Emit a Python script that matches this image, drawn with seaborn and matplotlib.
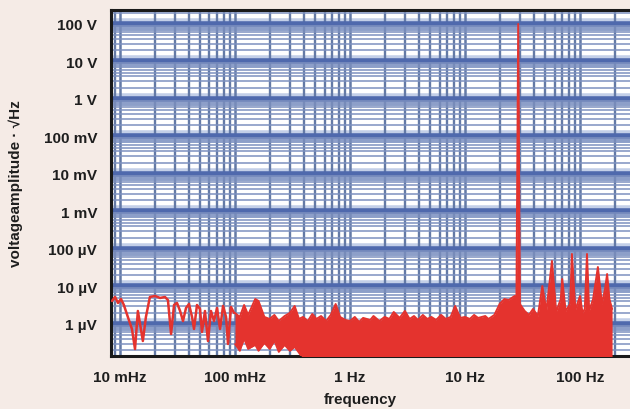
import matplotlib
matplotlib.use("Agg")
import pandas as pd
import seaborn as sns
import matplotlib.pyplot as plt
from matplotlib.ticker import LogLocator, NullFormatter, FixedLocator, FixedFormatter

# low-frequency part of the spectrum: single trace (Hz, µV/√Hz)
trace_freq = [0.00852, 0.00905, 0.00961, 0.0102, 0.0108, 0.0117, 0.0127, 0.0135,
              0.0143, 0.0152, 0.0158, 0.0168, 0.0182, 0.0202, 0.0223, 0.0246,
              0.0261, 0.0278, 0.0295, 0.0313, 0.0333, 0.0353, 0.0375, 0.0398,
              0.0423, 0.0440, 0.0467, 0.0496, 0.0516, 0.0548, 0.0582, 0.0618,
              0.0657, 0.0698, 0.0741, 0.0787, 0.0836, 0.0869, 0.0923, 0.0980]
trace_uv = [4.10, 5.25, 3.63, 4.64, 3.21, 1.54, 0.736, 0.215,
            2.22, 0.736, 0.352, 1.54, 5.25, 5.58, 4.94, 5.25,
            4.36, 0.541, 3.21, 3.63, 2.22, 1.20, 2.67, 3.41,
            1.54, 0.736, 3.21, 2.51, 0.612, 2.22, 0.352, 2.22,
            1.20, 2.67, 0.736, 3.02, 1.54, 0.293, 2.84, 1.97]

# dense part: max / min envelope of the trace per bin
band_freq = [0.10, 0.11, 0.12, 0.13, 0.15, 0.16, 0.18, 0.20, 0.22, 0.24, 0.27, 0.30, 0.33, 0.36,
             0.39, 0.43, 0.47, 0.51, 0.56, 0.62, 0.68, 0.75, 0.82, 0.91,
             1.0, 1.1, 1.2, 1.3, 1.5, 1.6, 1.8, 2.0, 2.2, 2.4, 2.7, 3.0,
             3.3, 3.6, 3.9, 4.3, 4.7, 5.1, 5.6, 6.2, 6.8, 7.5, 8.2, 9.1,
             10, 11, 12, 13, 15, 16, 18, 20, 22, 24, 27, 28, 29, 30,
             33, 36, 39, 43, 47, 51, 57, 62, 68, 70, 75, 82, 85, 91,
             100, 105, 110, 115, 120, 130, 143, 155, 165, 172, 180, 190]
band_top_uv = [1.97, 1.54, 3.21, 1.74, 4.64, 4.10, 1.54, 1.36, 1.74, 1.20, 1.63, 1.97, 3.02, 1.36,
               1.54, 1.20, 1.85, 1.36, 1.63, 1.20, 1.74, 3.41, 1.54, 1.28,
               1.20, 1.54, 1.13, 1.45, 1.28, 1.63, 1.20, 1.54, 1.36, 2.09, 1.45, 2.22,
               1.36, 1.63, 1.28, 1.74, 1.36, 1.54, 1.28, 1.74, 1.36, 1.54, 3.02, 1.45,
               1.54, 1.36, 1.74, 1.45, 1.63, 1.36, 1.74, 3.41, 4.64, 4.36, 5.58, 4.64, 1.0e8, 3.41,
               2.22, 1.74, 2.51, 1.63, 10.3, 2.22, 47.9, 2.09, 4.64, 15.8, 2.22, 3.41, 73.6, 2.36,
               5.58, 1.97, 2.51, 73.6, 2.22, 4.64, 33.1, 3.41, 8.58, 21.5, 4.64, 2.51]
band_bottom_uv = [0.293, 0.191, 0.398, 0.215, 0.275, 0.191, 0.311, 0.215, 0.352, 0.179, 0.275, 0.191, 0.244, 0.169,
                  0.12, 0.12, 0.12, 0.12, 0.12, 0.12, 0.12, 0.12, 0.12, 0.12,
                  0.12, 0.12, 0.12, 0.12, 0.12, 0.12, 0.12, 0.12, 0.12, 0.12, 0.12, 0.12,
                  0.12, 0.12, 0.12, 0.12, 0.12, 0.12, 0.12, 0.12, 0.12, 0.12, 0.12, 0.12,
                  0.12, 0.12, 0.12, 0.12, 0.12, 0.12, 0.12, 0.12, 0.12, 0.12, 0.12, 0.12, 0.12, 0.12,
                  0.12, 0.12, 0.12, 0.12, 0.12, 0.12, 0.12, 0.12, 0.12, 0.12, 0.12, 0.12, 0.12, 0.12,
                  0.12, 0.12, 0.12, 0.12, 0.12, 0.12, 0.12, 0.12, 0.12, 0.12, 0.12, 0.12]

x_ticks = [0.01, 0.1, 1, 10, 100]
x_labels = ["10 mHz", "100 mHz", "1 Hz", "10 Hz", "100 Hz"]
y_ticks = [1, 10, 100, 1e3, 1e4, 1e5, 1e6, 1e7, 1e8]
y_labels = ["1 µV", "10 µV", "100 µV", "1 mV", "10 mV", "100 mV", "1 V", "10 V", "100 V"]

bg = "#f5ebe6"
red = "#e4332e"
txt = "#1e1e1e"

sns.set_style("white")
plt.rcParams["font.family"] = ["Liberation Sans", "DejaVu Sans"]

fig = plt.figure(figsize=(6.3, 4.1), dpi=100, facecolor=bg)
ax = fig.add_axes([111 / 630, 1 - 357 / 410, 519 / 630, 346 / 410])
ax.set_facecolor("white")
ax.set_xscale("log")
ax.set_yscale("log")
ax.set_xlim(0.00835, 272)
ax.set_ylim(0.14, 2.36e8)

# grid: thick blue decades with a light halo, thin lines in between
ax.set_axisbelow(True)
ax.xaxis.set_minor_locator(LogLocator(base=10, subs=range(2, 10), numticks=20))
ax.yaxis.set_minor_locator(LogLocator(base=10, subs=range(2, 10), numticks=20))
ax.xaxis.set_minor_formatter(NullFormatter())
ax.yaxis.set_minor_formatter(NullFormatter())
for yv in y_ticks:
    ax.axhline(yv, color="#c3cfe8", lw=9, zorder=0.5)
ax.grid(which="minor", axis="y", color="#7d91c0", lw=1.1)
ax.grid(which="major", axis="y", color="#4f69ad", lw=4.0)
ax.grid(which="minor", axis="x", color="#647aa6", lw=1.7)
ax.grid(which="major", axis="x", color="#647aa6", lw=1.8)

trace = pd.DataFrame({"f": trace_freq, "v": trace_uv})
band = pd.DataFrame({"f": band_freq, "top": band_top_uv, "bottom": band_bottom_uv})

ax.fill_between(band["f"], band["bottom"], band["top"], color=red, lw=0, zorder=3)
sns.lineplot(data=band, x="f", y="top", color=red, lw=1.4, estimator=None, ax=ax, zorder=4)
sns.lineplot(data=band, x="f", y="bottom", color=red, lw=1.2, estimator=None, ax=ax, zorder=4)
sns.lineplot(data=trace, x="f", y="v", color=red, lw=1.8, estimator=None, ax=ax, zorder=4)

ax.xaxis.set_major_locator(FixedLocator(x_ticks))
ax.xaxis.set_major_formatter(FixedFormatter(x_labels))
ax.yaxis.set_major_locator(FixedLocator(y_ticks))
ax.yaxis.set_major_formatter(FixedFormatter(y_labels))
ax.tick_params(axis="both", which="both", length=0, labelsize=11, labelcolor=txt)
ax.tick_params(axis="x", pad=10)
ax.tick_params(axis="y", pad=10)
for lab in ax.get_xticklabels() + ax.get_yticklabels():
    lab.set_fontweight("bold")

ax.set_xlabel("frequency", fontsize=11, fontweight="bold", color=txt)
ax.set_ylabel("voltageamplitude · √Hz", fontsize=11, fontweight="bold", color=txt)
ax.xaxis.set_label_coords(0.48, -0.105)
ax.yaxis.set_label_coords(-0.17, 0.5)

for side in ["left", "top", "bottom"]:
    ax.spines[side].set_color("#1a1a1a")
    ax.spines[side].set_linewidth(2.2)
ax.spines["right"].set_visible(False)

fig.savefig("out.png", dpi=100, facecolor=bg)
